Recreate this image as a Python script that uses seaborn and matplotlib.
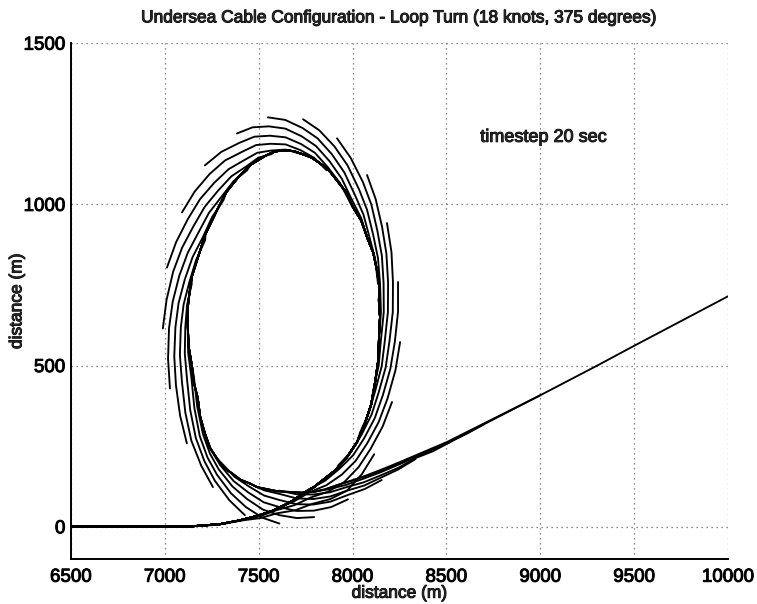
import matplotlib
matplotlib.use("Agg")
import matplotlib.pyplot as plt
import matplotlib.patheffects as pe
import numpy as np
import pandas as pd
import seaborn as sns

# cable already lying on the sea floor, in the order it was laid (m)
laid_x = [6500, 7000, 7133, 7293, 7400, 7506, 7575, 7640, 7690, 7736,
          7792, 7842, 7910, 7970, 8024, 8066, 8099, 8119, 8138, 8141,
          8146, 8140, 8141, 8130, 8110, 8077, 8046, 8002, 7965, 7917,
          7871, 7820, 7779, 7736, 7688, 7640, 7585, 7533, 7457, 7389,
          7327, 7277, 7216, 7171, 7143, 7130, 7120, 7122, 7127, 7144,
          7154, 7175, 7188, 7213, 7240, 7280, 7315, 7357, 7402, 7450,
          7491, 7533, 7600, 7666, 7728, 7789, 7853, 7917, 7997, 8077,
          8165, 8253, 8378, 8503, 9000, 9303, 9505, 10000]
laid_y = [0, 0, 1, 8, 20, 36, 50, 68, 84, 104,
          122, 145, 176, 216, 263, 321, 380, 445, 522, 600,
          650, 700, 749, 795, 850, 898, 950, 991, 1038, 1074,
          1108, 1130, 1146, 1155, 1165, 1168, 1164, 1150, 1123, 1083,
          1038, 981, 908, 826, 775, 720, 670, 620, 558, 500,
          448, 400, 342, 290, 245, 210, 182, 166, 146, 135,
          123, 118, 110, 108, 106, 108, 116, 129, 143, 160,
          180, 201, 232, 263, 408, 500, 563, 715]

# one entry per 20 s timestep: how many laid points the cable follows,
# then the hanging part from touchdown out to the ship
n_laid = [3, 5, 7, 10, 13, 15, 17, 19, 23, 25, 28, 31, 34, 37, 39, 41, 43,
          45, 47, 50, 53, 56, 59, 63, 65, 68, 78]
hang_x = [
    [7230, 7323, 7416, 7509, 7599, 7694, 7785, 7882, 7970, 8049, 8115],
    [7415, 7507, 7597, 7690, 7778, 7870, 7956, 8032, 8096, 8160, 8210],
    [7595, 7686, 7773, 7861, 7943, 8017, 8078, 8139, 8186, 8228, 8253],
    [7770, 7854, 7932, 8003, 8061, 8118, 8161, 8201, 8225, 8242, 8242],
    [7926, 7993, 8048, 8101, 8139, 8176, 8196, 8214, 8215, 8207, 8183],
    [8040, 8088, 8122, 8155, 8171, 8188, 8189, 8180, 8157, 8123, 8077],
    [8112, 8139, 8150, 8166, 8165, 8156, 8132, 8100, 8055, 7990, 7917],
    [8139, 8151, 8146, 8135, 8109, 8077, 8034, 7973, 7903, 7822, 7736],
    [8135, 8120, 8090, 8058, 8014, 7956, 7889, 7813, 7733, 7641, 7549],
    [8080, 8046, 7999, 7942, 7877, 7805, 7729, 7642, 7554, 7467, 7384],
    [7990, 7933, 7867, 7799, 7726, 7643, 7559, 7477, 7397, 7301, 7213],
    [7861, 7794, 7723, 7643, 7563, 7486, 7411, 7320, 7238, 7159, 7091],
    [7722, 7644, 7566, 7492, 7422, 7339, 7263, 7187, 7122, 7060, 7011],
    [7568, 7498, 7432, 7354, 7284, 7213, 7153, 7092, 7044, 7009, 6989],
    [7437, 7366, 7302, 7235, 7180, 7122, 7077, 7042, 7022, 7017, 7027],
    [7312, 7252, 7203, 7148, 7106, 7073, 7056, 7050, 7059, 7081, 7117],
    [7215, 7166, 7130, 7100, 7085, 7080, 7091, 7109, 7141, 7194, 7256],
    [7143, 7118, 7109, 7106, 7118, 7135, 7165, 7211, 7267, 7344, 7426],
    [7122, 7124, 7141, 7157, 7186, 7227, 7278, 7352, 7432, 7520, 7610],
    [7154, 7172, 7203, 7240, 7287, 7360, 7438, 7523, 7610, 7703, 7795],
    [7213, 7248, 7295, 7366, 7443, 7526, 7610, 7702, 7794, 7885, 7975],
    [7299, 7371, 7448, 7528, 7610, 7701, 7792, 7882, 7972, 8064, 8155],
    [7450, 7529, 7610, 7701, 7791, 7881, 7970, 8062, 8153, 8244, 8335],
    [7610, 7700, 7790, 7879, 7968, 8060, 8152, 8244, 8335, 8427, 8518],
    [7790, 7877, 7966, 8057, 8149, 8242, 8334, 8426, 8518, 8609, 8700],
    [7965, 8149, 8334, 8518, 8700, 8880, 9000],
    [],
]
hang_y = [
    [4, 10, 20, 27, 42, 51, 71, 86, 112, 163, 225],
    [22, 33, 52, 67, 91, 109, 139, 185, 242, 311, 387],
    [57, 78, 108, 129, 162, 205, 259, 325, 398, 485, 573],
    [117, 143, 181, 222, 274, 337, 408, 490, 574, 667, 759],
    [192, 233, 286, 348, 417, 494, 574, 666, 758, 852, 942],
    [293, 355, 425, 498, 574, 666, 757, 847, 930, 1016, 1091],
    [429, 500, 575, 666, 756, 840, 918, 999, 1069, 1144, 1205],
    [575, 665, 755, 834, 907, 983, 1047, 1121, 1180, 1230, 1264],
    [755, 831, 898, 968, 1027, 1099, 1156, 1205, 1237, 1262, 1270],
    [893, 957, 1011, 1080, 1134, 1181, 1211, 1235, 1242, 1239, 1220],
    [1002, 1066, 1116, 1160, 1187, 1208, 1213, 1210, 1191, 1163, 1121],
    [1106, 1145, 1168, 1186, 1188, 1184, 1163, 1136, 1094, 1040, 975],
    [1157, 1170, 1167, 1160, 1137, 1109, 1067, 1016, 954, 883, 804],
    [1156, 1145, 1117, 1087, 1043, 993, 933, 866, 791, 704, 615],
    [1105, 1072, 1024, 974, 914, 850, 779, 699, 616, 521, 429],
    [1013, 961, 899, 837, 767, 694, 618, 528, 439, 345, 259],
    [890, 827, 758, 690, 619, 533, 449, 354, 267, 189, 123],
    [753, 688, 620, 538, 457, 362, 275, 203, 142, 82, 36],
    [620, 540, 464, 369, 281, 215, 161, 104, 61, 28, 10],
    [468, 374, 287, 227, 178, 125, 86, 53, 36, 27, 30],
    [290, 236, 191, 142, 107, 76, 61, 49, 50, 61, 85],
    [199, 155, 125, 97, 83, 70, 69, 78, 98, 117, 145],
    [135, 113, 102, 88, 86, 94, 112, 128, 153, 178, 210],
    [112, 101, 100, 107, 123, 138, 160, 183, 213, 234, 262],
    [108, 117, 130, 149, 169, 192, 216, 240, 263, 289, 318],
    [138, 172, 217, 263, 318, 372, 408],
    [],
]

x_ticks = [6500, 7000, 7500, 8000, 8500, 9000, 9500, 10000]
y_ticks = [0, 500, 1000, 1500]

rows = []
for step, (n, hx, hy) in enumerate(zip(n_laid, hang_x, hang_y)):
    xs = laid_x[:n] + hx
    ys = laid_y[:n] + hy
    for i, (x, y) in enumerate(zip(xs, ys)):
        rows.append((step, i, x, y))
df = pd.DataFrame(rows, columns=["step", "node", "x", "y"])

sns.set_style("white")
plt.rcParams["font.family"] = ["Liberation Sans", "DejaVu Sans"]
ink = [pe.withStroke(linewidth=0.7, foreground="black")]

fig = plt.figure(figsize=(7.57, 6.04), dpi=100)
ax = fig.add_axes([0.0938, 0.0745, 0.868, 0.854])

sns.lineplot(data=df, x="x", y="y", units="step", estimator=None, sort=False,
             color="black", linewidth=1.35, legend=False, ax=ax)

ax.set_xlim(6500, 10000)
ax.set_ylim(-100, 1500)
ax.set_xticks(x_ticks)
ax.set_yticks(y_ticks)
ax.grid(True, color="0.4", linestyle=(0, (1, 3)), linewidth=0.9)
ax.set_axisbelow(True)
for s in ["top", "right"]:
    ax.spines[s].set_visible(False)
for s in ["left", "bottom"]:
    ax.spines[s].set_color("black")
    ax.spines[s].set_linewidth(1.4)
ax.tick_params(direction="in", length=5, width=1.2, labelsize=13.5,
               colors="black")
ax.tick_params(axis="x", pad=7)
ax.tick_params(axis="y", pad=4)
for lab in ax.get_xticklabels() + ax.get_yticklabels():
    lab.set_path_effects(ink)

ax.set_title("Undersea Cable Configuration - Loop Turn (18 knots, 375 degrees)",
             fontsize=12.5, pad=15, path_effects=ink)
ax.set_xlabel("distance (m)", fontsize=12.5, labelpad=0, path_effects=ink)
ax.set_ylabel("distance (m)", fontsize=12.5, path_effects=ink)
ax.yaxis.set_label_coords(-0.071, 0.5)
ax.text(8680, 1208, "timestep 20 sec", fontsize=13, va="center", ha="left",
        path_effects=ink)

fig.savefig("out.png", dpi=100)
